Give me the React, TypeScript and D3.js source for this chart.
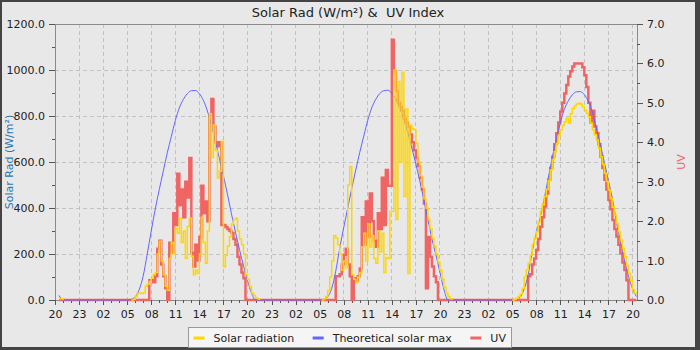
import React, { useEffect, useRef } from "react";
import * as d3 from "d3";

// Size of the picture and the plot area
const width = 700;
const height = 350;
const plot = { left: 55, right: 637, top: 24, bottom: 300 };
const font = "DejaVu Sans, Verdana, sans-serif";

const title = "Solar Rad (W/m²) &  UV Index";
const leftLabel = "Solar Rad (W/m²)";
const rightLabel = "UV";

const solarColor = "#ffd700";
const theoryColor = "#6464ff";
const uvColor = "#f06464";

// time span shown: 20:00 on the 20th to 20:34 on the 23rd
const chartStart = new Date(2024, 5, 20, 20, 0);
const chartEnd = new Date(2024, 5, 23, 20, 34);

const solarTicks = [0, 200, 400, 600, 800, 1000, 1200];
const solarMinorTicks = [100, 300, 500, 700, 900, 1100];
const uvTicks = [0, 1, 2, 3, 4, 5, 6, 7];
const uvMinorTicks = [0.5, 1.5, 2.5, 3.5, 4.5, 5.5, 6.5];

// evening of the 20th, half hourly from 20:30
const solarEve = [5, 0];
const theoryEve = [20, 0];
const uvEve = [0, 0];

// 21st: solar every 15 min from 05:30, UV every 15 min from 07:30, theory every 30 min from 05:00
const solarDay1 = [0, 3, 15, 28, 30, 28, 32, 60, 68, 80, 95, 110, 120, 200, 255, 170, 110, 60, 42, 180,
  250, 200, 310, 290, 355, 250, 300, 180, 320, 355, 190, 110, 130, 115, 200, 360, 250, 160, 300, 810,
  620, 760, 650, 530, 560, 690, 145, 195, 235, 275, 330, 350, 355, 300, 265, 240, 200, 110, 90, 60,
  30, 20, 10, 5, 0];
const uvDay1 = [0, 0.5, 0.5, 0.45, 0.6, 1.3, 1.5, 0.9, 0.6, 0.3, 0, 1.45, 1.2, 2.2, 1.9, 3.2, 2.4, 2.8,
  2.1, 3.0, 2.6, 3.6, 1.2, 0.85, 1.4, 1.0, 1.6, 2.9, 2.2, 2.5, 2.0, 4.7, 5.1, 4.4, 4.0, 3.9, 4.0, 1.9,
  1.9, 1.85, 1.8, 1.75, 1.7, 1.55, 1.4, 1.1, 0.9, 0.7, 0.55, 0];
const theoryDay1 = [0, 3, 14, 45, 105, 200, 300, 395, 480, 560, 640, 710, 780, 835, 872, 897, 910, 911,
  897, 868, 822, 760, 690, 615, 540, 460, 375, 295, 220, 150, 85, 30, 0];

// 22nd: solar from 05:15, UV from 06:45, theory from 05:00
const solarDay2 = [0, 5, 15, 40, 100, 170, 280, 270, 240, 200, 130, 170, 140, 500, 580, 110, 90, 75, 100,
  120, 230, 290, 170, 330, 230, 280, 180, 160, 300, 210, 290, 120, 185, 180, 385, 385, 1000, 350, 950,
  600, 990, 450, 830, 115, 760, 745, 740, 680, 600, 540, 490, 440, 400, 350, 310, 270, 235, 200, 165,
  130, 90, 55, 30, 15, 5, 0];
const uvDay2 = [0, 0.6, 0.6, 0.65, 0.9, 1.15, 1.3, 0.9, 0.6, 0, 0.55, 0.5, 0.6, 0.8, 2.1, 1.4, 2.5, 1.6,
  2.7, 2.0, 1.5, 1.35, 2.2, 1.8, 3.1, 1.9, 3.3, 2.9, 2.9, 6.6, 5.8, 5.3, 5.0, 4.9, 4.8, 4.6, 4.5, 4.4,
  4.2, 4.0, 3.8, 3.6, 3.4, 3.1, 2.8, 2.45, 0.3, 1.6, 1.1, 0.85, 0.6, 0.45, 0];
const theoryDay2 = [0, 3, 14, 50, 125, 225, 315, 400, 485, 565, 642, 713, 782, 836, 873, 898, 910, 912,
  900, 875, 835, 785, 725, 660, 590, 515, 435, 350, 265, 195, 120, 45, 0];

// 23rd: solar from 05:00, UV from 06:45, theory from 05:00
const solarDay3 = [0, 3, 8, 15, 25, 50, 100, 130, 160, 195, 240, 270, 297, 340, 385, 415, 450, 480, 520,
  565, 610, 645, 680, 715, 740, 760, 775, 790, 770, 810, 833, 845, 852, 855, 852, 840, 826, 812, 797,
  770, 740, 718, 696, 660, 623, 590, 551, 515, 478, 440, 406, 370, 333, 297, 261, 225, 188, 150, 116,
  85, 45, 30, 25];
const uvDay3 = [0, 0.6, 0.65, 0.9, 1.05, 1.27, 1.55, 1.86, 2.1, 2.37, 2.7, 3.05, 3.35, 3.63, 3.95, 4.23,
  4.5, 4.78, 5.0, 5.24, 5.45, 5.67, 5.8, 5.92, 6.0, 6.0, 6.0, 6.0, 5.9, 5.7, 5.4, 5.0, 4.5, 4.8, 4.4,
  4.23, 3.95, 3.63, 3.35, 3.05, 2.8, 2.54, 2.3, 2.03, 1.8, 1.61, 1.4, 1.18, 0.95, 0.76, 0.5, 0, 0, 0, 0, 0];
const theoryDay3 = [0, 3, 12, 48, 110, 210, 290, 360, 440, 530, 620, 700, 770, 828, 866, 892, 905, 906,
  893, 864, 818, 750, 675, 598, 520, 440, 340, 255, 175, 105, 50, 15];

const legendItems = [
  { label: "Solar radiation", color: solarColor },
  { label: "Theoretical solar max", color: theoryColor },
  { label: "UV", color: uvColor },
];

type Pt = { t: Date; v: number };

// turn a run of readings into timed points
function seg(day: number, hhmm: string, stepMin: number, values: number[]): Pt[] {
  const [h, m] = hhmm.split(":").map(Number);
  const t0 = new Date(2024, 5, day, h, m).getTime();
  return values.map((v, i) => ({ t: new Date(t0 + i * stepMin * 60000), v }));
}

// solar is drawn day by day (no line across the night)
const solarSegments = [
  seg(20, "20:30", 30, solarEve),
  seg(21, "05:30", 15, solarDay1),
  seg(22, "05:15", 15, solarDay2),
  seg(23, "05:00", 15, solarDay3),
];
const theoryData = [
  ...seg(20, "20:30", 30, theoryEve),
  ...seg(21, "05:00", 30, theoryDay1),
  ...seg(22, "05:00", 30, theoryDay2),
  ...seg(23, "05:00", 30, theoryDay3),
];
const uvData = [
  ...seg(20, "20:30", 30, uvEve),
  ...seg(21, "07:30", 15, uvDay1),
  ...seg(22, "06:45", 15, uvDay2),
  ...seg(23, "06:45", 15, uvDay3),
];

export default function App() {
  const svgRef = useRef<SVGSVGElement>(null);

  useEffect(() => {
    const svg = d3.select(svgRef.current);
    svg.selectAll("*").remove();

    const x = d3.scaleTime().domain([chartStart, chartEnd]).range([plot.left, plot.right]);
    const ySolar = d3.scaleLinear().domain([0, 1200]).range([plot.bottom, plot.top]);
    const yUV = d3.scaleLinear().domain([0, 7]).range([plot.bottom, plot.top]);

    // background and dark frame
    svg.append("rect").attr("width", width).attr("height", height).attr("fill", "#444");
    svg.append("rect").attr("x", 2).attr("y", 2).attr("width", 693).attr("height", 345).attr("fill", "#e8e8e8");

    const hours = d3.timeHour.range(chartStart, chartEnd);
    const majorHours = hours.filter((d, i) => i % 3 === 0);
    const minorHours = hours.filter((d, i) => i % 3 !== 0);

    // dashed grid
    const grid = svg.append("g")
      .attr("stroke", "#c2c2c2")
      .attr("stroke-dasharray", "4,3")
      .attr("shape-rendering", "crispEdges");
    grid.selectAll(".vgrid").data(majorHours.slice(1)).enter().append("line")
      .attr("x1", d => x(d)).attr("x2", d => x(d))
      .attr("y1", plot.top).attr("y2", plot.bottom);
    grid.selectAll(".hgrid").data(solarTicks.slice(1, -1)).enter().append("line")
      .attr("x1", plot.left).attr("x2", plot.right)
      .attr("y1", d => ySolar(d)).attr("y2", d => ySolar(d));

    // plot border
    svg.append("rect")
      .attr("x", plot.left).attr("y", plot.top)
      .attr("width", plot.right - plot.left).attr("height", plot.bottom - plot.top)
      .attr("fill", "none").attr("stroke", "#8a8a8a").attr("shape-rendering", "crispEdges");

    const styleAxis = (g: any) => {
      g.select(".domain").remove();
      g.attr("font-family", font).attr("font-size", 11);
      g.selectAll("line").attr("stroke", "#555").attr("shape-rendering", "crispEdges");
      g.selectAll("text").attr("fill", "#222");
    };

    svg.append("g").attr("transform", `translate(${plot.left},0)`)
      .call(d3.axisLeft(ySolar).tickValues(solarTicks).tickFormat(d3.format(".1f")).tickSize(6).tickPadding(4))
      .call(styleAxis);
    svg.append("g").attr("transform", `translate(${plot.left},0)`)
      .call(d3.axisLeft(ySolar).tickValues(solarMinorTicks).tickFormat(() => "").tickSize(3))
      .call(styleAxis);
    svg.append("g").attr("transform", `translate(${plot.right},0)`)
      .call(d3.axisRight(yUV).tickValues(uvTicks).tickFormat(d3.format(".1f")).tickSize(6).tickPadding(4))
      .call(styleAxis);
    svg.append("g").attr("transform", `translate(${plot.right},0)`)
      .call(d3.axisRight(yUV).tickValues(uvMinorTicks).tickFormat(() => "").tickSize(3))
      .call(styleAxis);
    svg.append("g").attr("transform", `translate(0,${plot.bottom})`)
      .call(d3.axisBottom(x).tickValues(majorHours).tickFormat(d3.timeFormat("%H") as any).tickSize(5).tickPadding(5))
      .call(styleAxis);
    svg.append("g").attr("transform", `translate(0,${plot.bottom})`)
      .call(d3.axisBottom(x).tickValues(minorHours).tickFormat(() => "").tickSize(3))
      .call(styleAxis);

    // clip the series to the plot width
    svg.append("clipPath").attr("id", "plotclip")
      .append("rect")
      .attr("x", plot.left).attr("y", 0)
      .attr("width", plot.right - plot.left).attr("height", plot.bottom + 2);

    const series = svg.append("g").attr("clip-path", "url(#plotclip)").attr("fill", "none");

    const uvLine = d3.line<Pt>().x(d => x(d.t)).y(d => yUV(d.v)).curve(d3.curveStepAfter);
    const theoryLine = d3.line<Pt>().x(d => x(d.t)).y(d => ySolar(d.v)).curve(d3.curveMonotoneX);
    const solarLine = d3.line<Pt>().x(d => x(d.t)).y(d => ySolar(d.v)).curve(d3.curveStepAfter);

    series.append("path").attr("d", uvLine(uvData))
      .attr("stroke", uvColor).attr("stroke-width", 2.5);
    series.append("path").attr("d", theoryLine(theoryData))
      .attr("stroke", theoryColor).attr("stroke-width", 1);
    series.selectAll(".solar").data(solarSegments).enter().append("path")
      .attr("d", d => solarLine(d))
      .attr("stroke", solarColor).attr("stroke-width", 1.5);

    // title and axis titles
    svg.append("text")
      .attr("x", 348).attr("y", 16.5)
      .attr("text-anchor", "middle")
      .attr("font-family", font).attr("font-size", 13).attr("fill", "#222")
      .style("white-space", "pre")
      .text(title);

    svg.append("text")
      .attr("transform", `translate(13,${(plot.top + plot.bottom) / 2}) rotate(-90)`)
      .attr("text-anchor", "middle")
      .attr("font-family", font).attr("font-size", 11).attr("fill", "#2a78b0")
      .text(leftLabel);

    svg.append("text")
      .attr("transform", `translate(685,${(plot.top + plot.bottom) / 2}) rotate(-90)`)
      .attr("text-anchor", "middle")
      .attr("font-family", font).attr("font-size", 11).attr("fill", uvColor)
      .text(rightLabel);

    // legend
    const legend = svg.append("g");
    const box = legend.append("rect")
      .attr("fill", "#f5f5f5").attr("stroke", "#999").attr("shape-rendering", "crispEdges");
    let cx = 0;
    legendItems.forEach(item => {
      const g = legend.append("g").attr("transform", `translate(${cx},0)`);
      g.append("line")
        .attr("x1", 0).attr("x2", 11).attr("y1", 338).attr("y2", 338)
        .attr("stroke", item.color).attr("stroke-width", 3);
      const t = g.append("text")
        .attr("x", 20).attr("y", 342)
        .attr("font-family", font).attr("font-size", 11).attr("fill", "#222")
        .text(item.label);
      const tw = (t.node() as SVGTextElement).getComputedTextLength();
      cx += 20 + tw + 18.5;
    });
    const contentW = cx - 18.5;
    const boxW = contentW + 11;
    const boxX = Math.round(width / 2 - boxW / 2) + 0.5;
    legend.attr("transform", `translate(${boxX + 5},0)`);
    box.attr("x", -5).attr("y", 327.5).attr("width", boxW).attr("height", 20);
  }, []);

  return (
    <svg
      ref={svgRef}
      width={width}
      height={height}
      style={{ position: "absolute", left: 0, top: 0 }}
    ></svg>
  );
}
